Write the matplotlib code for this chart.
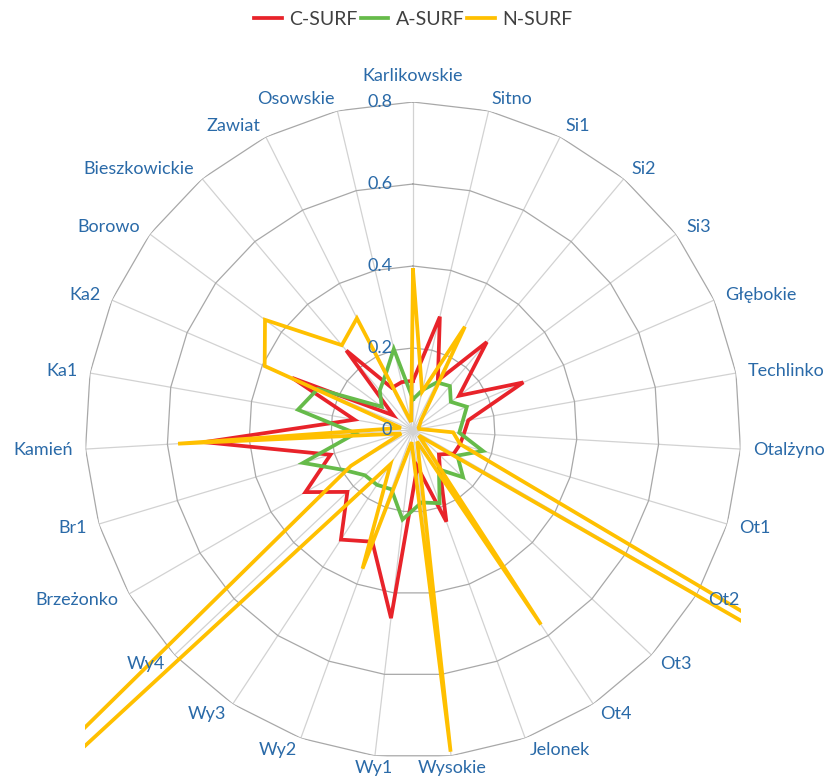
import numpy as np
import matplotlib
matplotlib.use("Agg")
import matplotlib.pyplot as plt

plt.rcParams["font.family"] = ["Lato", "DejaVu Sans"]

# ---------------------------------------------------------------------------
# Data
# ---------------------------------------------------------------------------
categories = ["Karlikowskie", "Sitno", "Si1", "Si2", "Si3", "Głębokie", "Techlinko",
              "Otalżyno", "Ot1", "Ot2", "Ot3", "Ot4", "Jelonek", "Wysokie", "Wy1",
              "Wy2", "Wy3", "Wy4", "Brzeżonko", "Br1", "Kamień", "Ka1", "Ka2",
              "Borowo", "Bieszkowickie", "Zawiat", "Osowskie"]

c_surf = [0.12, 0.284, 0.135, 0.28, 0.14, 0.293, 0.137, 0.125, 0.12, 0.115, 0.087,
          0.12, 0.238, 0.09, 0.462, 0.29, 0.32, 0.22, 0.303, 0.21, 0.51, 0.145,
          0.321, 0.06, 0.253, 0.115, 0.12]

a_surf = [0.075, 0.1, 0.13, 0.14, 0.115, 0.143, 0.123, 0.113, 0.178, 0.125, 0.168,
          0.115, 0.19, 0.178, 0.22, 0.154, 0.16, 0.161, 0.195, 0.28, 0.14, 0.285,
          0.253, 0.095, 0.126, 0.15, 0.203]

n_surf = [0.39, 0.096, 0.282, 0.03, 0.02, 0.015, 0.015, 0.098, 0.12, 2.4, 0.02,
          0.568, 0.03, 0.79, 0.03, 0.36, 0.10, 2.1, 0.175, 0.03, 0.574, 0.03,
          0.394, 0.45, 0.27, 0.305, 0.02]

series = [("C-SURF", c_surf, "#e8232a"),
          ("A-SURF", a_surf, "#66bb4a"),
          ("N-SURF", n_surf, "#ffc000")]

r_ticks = [0, 0.2, 0.4, 0.6, 0.8]
r_max = 0.8

label_color = "#2a6aa8"
ring_color = "#a8a8a8"
spoke_color = "#d2d2d2"

# ---------------------------------------------------------------------------
# Figure / polar axes (plot area is the square around the outer ring)
# ---------------------------------------------------------------------------
fig = plt.figure(figsize=(8.27, 7.78), dpi=100)
ax = fig.add_axes([85 / 827, 20 / 778, 656 / 827, 656 / 778], projection="polar")
ax.set_theta_zero_location("N")
ax.set_theta_direction(-1)
ax.set_ylim(0, r_max)
ax.grid(False)
ax.spines["polar"].set_visible(False)
ax.set_xticks([])
ax.set_yticks([])
ax.patch.set_alpha(0)

n = len(categories)
theta = np.linspace(0, 2 * np.pi, n, endpoint=False)
theta_closed = np.append(theta, theta[0])

# spokes
for t in theta:
    ax.plot([t, t], [0, r_max], color=spoke_color, lw=0.9, zorder=1)

# polygon rings
for r in r_ticks[1:]:
    ax.plot(theta_closed, [r] * (n + 1), color=ring_color, lw=0.9, zorder=1)

# series (clipped to the square plot area, as Excel does)
handles = []
for name, vals, col in series:
    vals_closed = np.append(vals, vals[0])
    line, = ax.plot(theta_closed, vals_closed, color=col, lw=2.7, label=name,
                    solid_joinstyle="miter", zorder=3)
    line.set_clip_path(None)
    line.set_clip_box(ax.bbox)
    handles.append(line)

# radial tick labels along the Karlikowskie axis
for r in r_ticks:
    ax.annotate(f"{r:g}", xy=(0, r), xytext=(-15, 0), textcoords="offset points",
                ha="right", va="center", fontsize=13, color=label_color)

# category labels
for t, lab in zip(theta, categories):
    s = np.sin(t)
    if s > 0.15:
        ha = "left"
    elif s < -0.15:
        ha = "right"
    else:
        ha = "center"
    va = "center"
    r_lab = 0.83
    if np.cos(t) > 0.99:
        va = "bottom"
        r_lab = 0.845
    ax.text(t, r_lab, lab, ha=ha, va=va, fontsize=13, color=label_color,
            clip_on=False)

fig.legend(handles=handles, loc="upper center", bbox_to_anchor=(0.5, 1.008),
           ncol=3, frameon=False, fontsize=14, handlelength=1.4,
           handletextpad=0.4, columnspacing=0.15, labelcolor="#404040")

fig.savefig("out.png", dpi=100)
plt.close(fig)
